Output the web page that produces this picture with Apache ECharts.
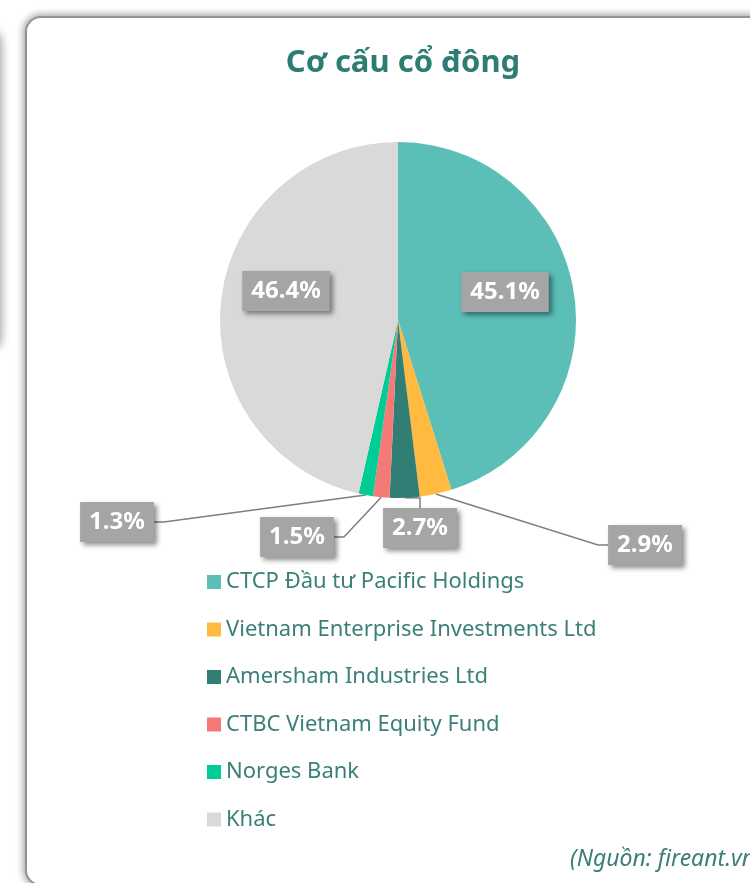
<!DOCTYPE html>
<html>
<head>
<meta charset="utf-8">
<script src="https://cdn.jsdelivr.net/npm/echarts@6/dist/echarts.min.js"></script>
<style>
  html, body { margin: 0; padding: 0; width: 750px; height: 883px; overflow: hidden; background: #fff; }
  .ghost { position: absolute; left: -300px; top: 30px; width: 300px; height: 320px; border-radius: 14px;
           box-shadow: 0 0 8px 2px rgba(0,0,0,0.35); background: #fff; }
  .card { position: absolute; left: 25px; top: 16px; width: 800px; height: 866px; border-radius: 16px;
          border: 2px solid #939393; box-shadow: 0 0 7px 2px rgba(0,0,0,0.35); background: #fff; }
  #chart { position: absolute; left: 0; top: 0; width: 750px; height: 883px; }
</style>
</head>
<body>
<div class="ghost"></div>
<div class="card"></div>
<div id="chart"></div>
<script>
const holders = ['CTCP Đầu tư Pacific Holdings', 'Vietnam Enterprise Investments Ltd', 'Amersham Industries Ltd',
  'CTBC Vietnam Equity Fund', 'Norges Bank', 'Khác'];
const shares = [45.1, 2.9, 2.7, 1.5, 1.3, 46.4];
const colors = ['#5BBFB8', '#FFBA3F', '#317E74', '#F47A78', '#00CC96', '#D9D9D9'];

// where each label box sits (centre), and whether it lies inside the slice
const labelSpots = [[505, 292], [645, 545], [420, 528], [297, 537], [117, 522], [286, 291]];
const insideLabel = [true, false, false, false, false, true];

const chart = echarts.init(document.getElementById('chart'));

const option = {
  color: colors,
  title: {
    text: 'Cơ cấu cổ đông',
    left: 398, top: 43, textAlign: 'center',
    textStyle: { fontFamily: 'Noto Sans', fontSize: 31, fontWeight: 'bold', color: '#2E7D74' }
  },
  legend: {
    orient: 'vertical', left: 207, top: 571, padding: 0,
    itemWidth: 14, itemHeight: 14, itemGap: 25.5, icon: 'rect',
    textStyle: { fontFamily: 'Noto Sans', fontSize: 22, color: '#3A7F78' }
  },
  graphic: [{
    type: 'text', left: 570, top: 848,
    style: { text: '(Nguồn: fireant.vn)', font: 'italic 23px "Noto Sans"', fill: '#3A7F78' }
  }],
  series: [{
    type: 'pie',
    center: [398, 320],
    radius: 178,
    startAngle: 90,
    clockwise: true,
    avoidLabelOverlap: false,
    label: {
      formatter: p => p.value.toFixed(1) + '%',
      fontFamily: 'Noto Sans', fontSize: 24, fontWeight: 'bold', color: '#fff',
      backgroundColor: '#A5A5A5', padding: [9, 9, 7, 9],
      shadowColor: 'rgba(0,0,0,0.45)', shadowBlur: 5, shadowOffsetX: 3, shadowOffsetY: 3
    },
    labelLine: { show: true, length: 10, length2: 10, lineStyle: { color: '#7F7F7F', width: 1.5 } },
    labelLayout: p => ({
      x: labelSpots[p.dataIndex][0], y: labelSpots[p.dataIndex][1],
      align: 'center', verticalAlign: 'middle'
    }),
    data: holders.map((name, i) => ({
      name: name, value: shares[i],
      label: { position: insideLabel[i] ? 'inside' : 'outside' },
      labelLine: { show: !insideLabel[i] }
    }))
  }]
};

chart.setOption(option);
</script>
</body>
</html>
